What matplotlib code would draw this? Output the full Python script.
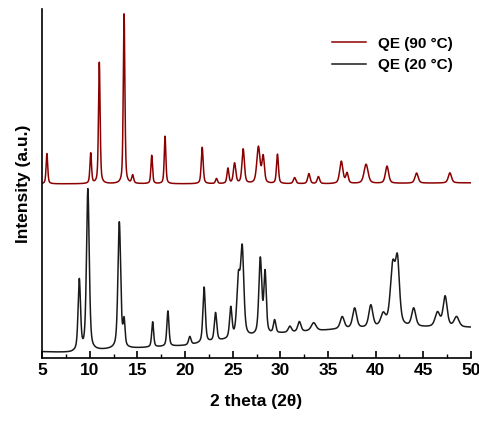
import numpy as np
import matplotlib
matplotlib.use("Agg")
import matplotlib.pyplot as plt

plt.rcParams['font.family'] = ['Liberation Sans', 'DejaVu Sans']

# black trace (QE 20 °C): baseline anchors and peaks (position, height above baseline, width)
base20_x = [5, 8, 12, 20, 25, 30, 36, 42, 46, 50]
base20_y = [6, 5, 8, 12, 18, 24, 28, 30, 30, 30]
pk20_pos = [8.9, 9.8, 13.1, 13.6, 16.6, 18.2, 20.5, 22.0, 23.2, 24.8, 25.6, 26.0, 27.9, 28.4, 29.4,
            31.0, 32.0, 33.5, 36.5, 37.8, 39.5, 40.8, 41.8, 42.3, 44.0, 46.5, 47.3, 48.5]
pk20_h = [70, 160, 125, 25, 25, 35, 8, 55, 28, 30, 55, 85, 75, 60, 13,
          6, 10, 8, 12, 20, 22, 12, 58, 60, 18, 14, 30, 10]
pk20_w = [0.15, 0.17, 0.17, 0.12, 0.12, 0.13, 0.15, 0.15, 0.15, 0.15, 0.2, 0.2, 0.18, 0.15, 0.15,
          0.2, 0.2, 0.3, 0.25, 0.25, 0.25, 0.3, 0.3, 0.25, 0.25, 0.3, 0.25, 0.3]

# red trace (QE 90 °C)
base90_x = [5, 20, 35, 50]
base90_y = [172, 172, 172, 173]
pk90_pos = [5.5, 10.1, 11.0, 13.6, 14.5, 16.5, 17.9, 21.8, 23.3, 24.5, 25.2, 26.1, 27.7, 28.2, 29.7,
            31.5, 33.0, 34.0, 36.4, 37.0, 39.0, 41.2, 44.3, 47.8]
pk90_h = [30, 30, 120, 168, 8, 28, 47, 36, 5, 15, 20, 34, 36, 26, 29,
          6, 10, 7, 22, 10, 19, 17, 10, 10]
pk90_w = [0.1, 0.1, 0.1, 0.1, 0.12, 0.1, 0.1, 0.12, 0.12, 0.12, 0.15, 0.15, 0.2, 0.15, 0.12,
          0.15, 0.15, 0.15, 0.2, 0.15, 0.25, 0.2, 0.2, 0.2]

tt = np.linspace(5, 50, 4000)

def pattern(bx, by, pos, h, w):
    y = np.interp(tt, bx, by)
    for p, a, g in zip(pos, h, w):
        x = (tt - p) / g
        y = y + a * (0.5 / (1 + x ** 2) + 0.5 * np.exp(-0.693 * x ** 2))
    return y

fig = plt.figure(figsize=(4.79, 4.23), dpi=100)
ax = fig.add_axes([0.088, 0.154, 0.895, 0.825])
ax.plot(tt, pattern(base90_x, base90_y, pk90_pos, pk90_h, pk90_w), color='#8b0000', lw=1.1, label='QE (90 °C)')
ax.plot(tt, pattern(base20_x, base20_y, pk20_pos, pk20_h, pk20_w), color='#1a1a1a', lw=1.1, label='QE (20 °C)')
ax.set_xlim(5, 50)
ax.set_ylim(0, 345)
ax.set_xticks(range(5, 51, 5))
ax.set_xticks(np.arange(7.5, 50, 5), minor=True)
ax.set_yticks([])
ax.tick_params(axis='x', direction='in', length=5, width=1.2, labelsize=12.5)
ax.tick_params(axis='x', which='minor', direction='in', length=3, width=1)
for lab in ax.get_xticklabels():
    lab.set_fontweight('bold')
ax.spines['top'].set_visible(False)
ax.spines['right'].set_visible(False)
ax.spines['left'].set_linewidth(1.2)
ax.spines['bottom'].set_linewidth(1.2)
ax.set_xlabel('2 theta (2θ)', fontsize=12.5, fontweight='bold', labelpad=12)
ax.set_ylabel('Intensity (a.u.)', fontsize=12.5, fontweight='bold', labelpad=8)
ax.legend(loc='upper right', bbox_to_anchor=(0.99, 0.96), frameon=False,
          prop={'weight': 'bold', 'size': 11}, handlelength=2.2)
fig.savefig('out.png', dpi=100)
